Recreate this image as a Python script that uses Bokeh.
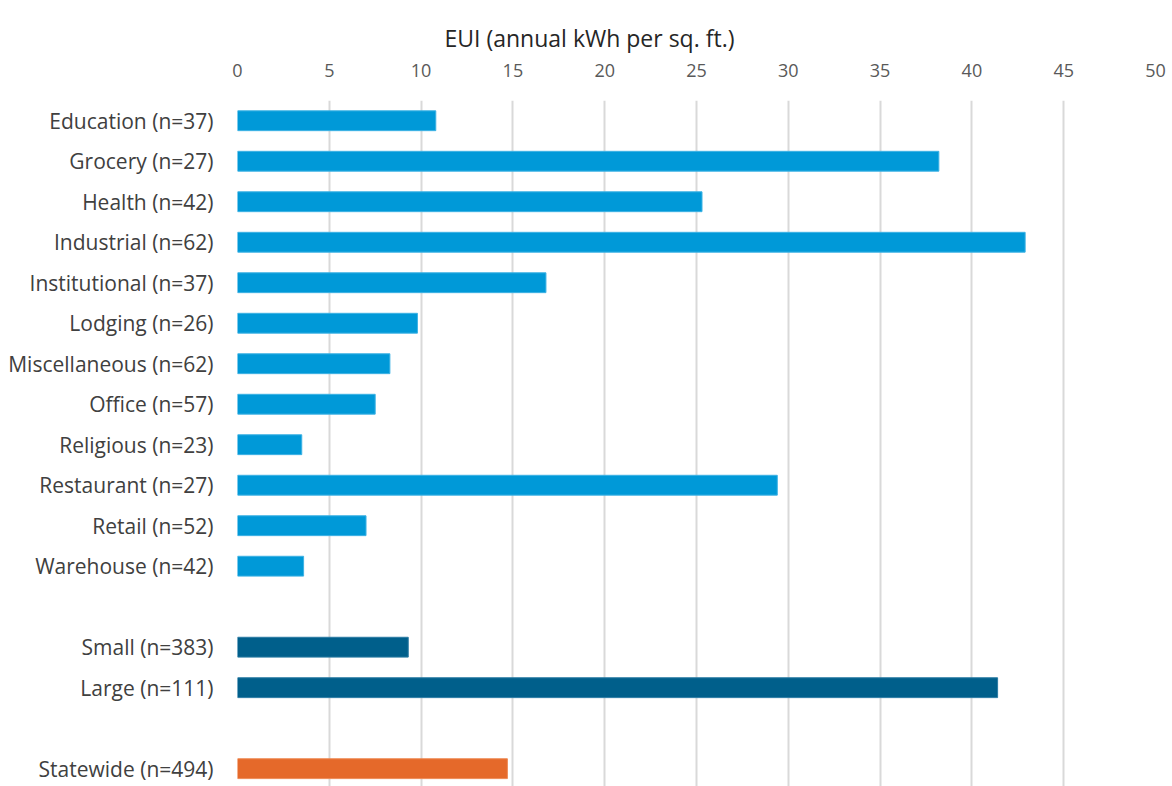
from bokeh.plotting import figure
from bokeh.models import Range1d, FixedTicker, ColumnDataSource
from bokeh.embed import file_html
from bokeh.resources import INLINE

# Building-type EUI values (annual kWh per sq. ft.)
type_labels = [
    "Education (n=37)", "Grocery (n=27)", "Health (n=42)", "Industrial (n=62)",
    "Institutional (n=37)", "Lodging (n=26)", "Miscellaneous (n=62)", "Office (n=57)",
    "Religious (n=23)", "Restaurant (n=27)", "Retail (n=52)", "Warehouse (n=42)",
]
type_eui = [10.8, 38.2, 25.3, 42.9, 16.8, 9.8, 8.3, 7.5, 3.5, 29.4, 7.0, 3.6]

# Size classes
size_labels = ["Small (n=383)", "Large (n=111)"]
size_eui = [9.3, 41.4]

# Statewide total
state_labels = ["Statewide (n=494)"]
state_eui = [14.7]

x_ticks = [0, 5, 10, 15, 20, 25, 30, 35, 40, 45, 50]
axis_title = "EUI (annual kWh per sq. ft.)"

FONT = "Open Sans"

# Row positions: groups separated by one blank row
type_rows = list(range(len(type_labels)))
size_rows = [len(type_labels) + 1 + i for i in range(len(size_labels))]
state_rows = [size_rows[-1] + 2 + i for i in range(len(state_labels))]

p = figure(
    width=1172, height=786,
    x_range=Range1d(0, 50), y_range=Range1d(16.44, -0.5),
    x_axis_location="above",
    output_backend="svg", toolbar_location=None,
    min_border_left=237, min_border_right=17,
    min_border_top=100, min_border_bottom=0,
)
p.outline_line_color = None
p.background_fill_color = "white"
p.border_fill_color = "white"

groups = [
    (type_rows, type_eui, "#0099D8", "#3DB2E4"),
    (size_rows, size_eui, "#005F8B", "#2A7BA3"),
    (state_rows, state_eui, "#E5692A", "#EE8A55"),
]
for rows, vals, fill, edge in groups:
    src = ColumnDataSource(dict(y=rows, v=vals))
    p.hbar(y="y", left=0, right="v", height=0.49, source=src,
           fill_color=fill, line_color=edge, line_width=1)

# Top value axis
xa = p.xaxis[0]
xa.ticker = FixedTicker(ticks=x_ticks)
xa.axis_line_color = None
xa.major_tick_line_color = None
xa.minor_tick_line_color = None
xa.major_label_text_font = FONT
xa.major_label_text_font_size = "18px"
xa.major_label_text_color = "#595959"
xa.major_label_standoff = 18

# Category axis
all_rows = type_rows + size_rows + state_rows
all_labels = type_labels + size_labels + state_labels
ya = p.yaxis[0]
ya.ticker = FixedTicker(ticks=all_rows)
ya.major_label_overrides = {r: lab for r, lab in zip(all_rows, all_labels)}
ya.axis_line_color = None
ya.major_tick_line_color = None
ya.minor_tick_line_color = None
ya.major_label_text_font = FONT
ya.major_label_text_font_size = "21px"
ya.major_label_text_color = "#404040"
ya.major_label_standoff = 18

p.ygrid.grid_line_color = None
p.xgrid.ticker = FixedTicker(ticks=x_ticks)
p.xgrid.grid_line_color = "#D9D9D9"
p.xgrid.grid_line_width = 2

# Axis title sits at the top edge of the header band
p.title.text = axis_title
p.title.align = "left"
p.title.vertical_align = "top"
p.title.offset = 207
p.title.text_font = FONT
p.title.text_font_size = "23px"
p.title.text_font_style = "normal"
p.title.text_color = "#262626"
p.title.standoff = 9

open("out.html", "w").write(file_html(p, INLINE))
